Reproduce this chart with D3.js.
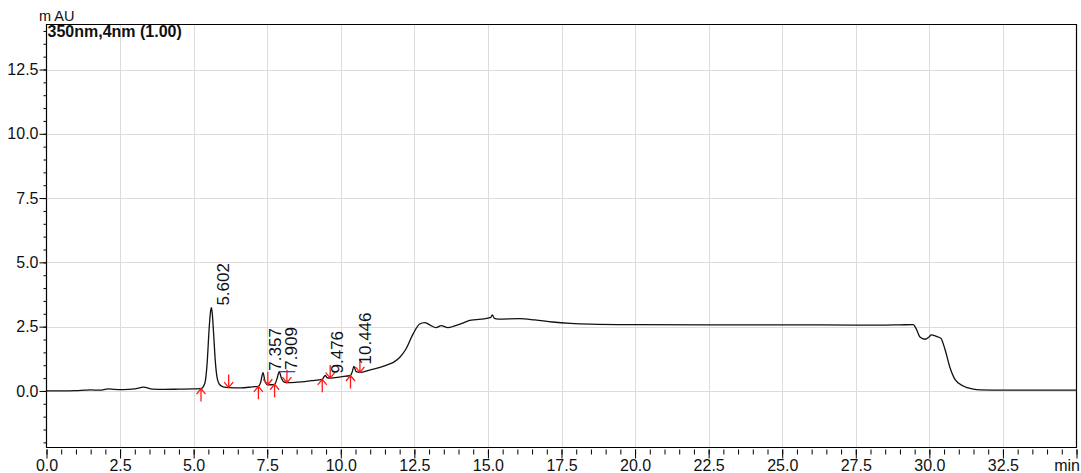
<!DOCTYPE html>
<html>
<head>
<meta charset="utf-8">
<script src="https://cdn.jsdelivr.net/npm/d3@7"></script>
<style>
  html, body { margin: 0; padding: 0; background: #fff; }
  svg { display: block; font-family: "Liberation Sans", Arial, sans-serif; }
</style>
</head>
<body>
<svg id="chart" width="1081" height="473"></svg>
<script>
// Chromatogram trace: retention time (min) and absorbance (mAU)
const traceTime = [
  0.0, 0.5, 1.0, 1.3, 1.5, 1.8, 2.1, 2.3, 2.6, 3.0, 3.3, 3.6, 4.0, 4.5, 5.0,
  5.25, 5.38, 5.46, 5.52, 5.57, 5.602, 5.63, 5.68, 5.74, 5.80, 5.88, 6.0, 6.2, 6.6,
  7.0, 7.2, 7.28, 7.357, 7.43, 7.52, 7.65, 7.75, 7.84, 7.909, 7.98, 8.1, 8.17, 8.5,
  9.0, 9.37, 9.43, 9.476, 9.53, 9.64, 10.0, 10.33, 10.39, 10.446, 10.52, 10.65,
  11.0, 11.3, 11.6, 11.8, 12.0, 12.2, 12.45, 12.68, 12.85, 13.02, 13.24, 13.41,
  13.64, 13.87, 14.1, 14.38, 15.0, 15.1, 15.15, 15.22, 15.35, 16.08, 16.6, 17.2,
  17.8, 18.5, 20.0, 22.5, 25.0, 27.5, 28.5, 29.0, 29.45, 29.56, 29.68, 29.85,
  29.99, 30.07, 30.24, 30.39, 30.53, 30.7, 30.87, 31.15, 31.49, 31.72, 32.5, 35.0
];
const traceAbs = [
  0.00, 0.00, 0.01, 0.03, 0.04, 0.03, 0.08, 0.06, 0.05, 0.08, 0.15, 0.07, 0.06, 0.07, 0.08,
  0.09, 0.30, 1.10, 2.30, 3.05, 3.24, 3.05, 2.20, 1.10, 0.50, 0.25, 0.16, 0.13, 0.12,
  0.16, 0.18, 0.35, 0.71, 0.35, 0.24, 0.24, 0.26, 0.50, 0.75, 0.50, 0.33, 0.32, 0.34,
  0.40, 0.45, 0.55, 0.60, 0.52, 0.50, 0.55, 0.60, 0.75, 0.95, 0.75, 0.72,
  0.82, 0.91, 1.02, 1.12, 1.30, 1.60, 2.20, 2.60, 2.66, 2.57, 2.46, 2.54,
  2.46, 2.53, 2.62, 2.74, 2.83, 2.86, 2.96, 2.82, 2.79, 2.81, 2.76, 2.68,
  2.63, 2.60, 2.58, 2.57, 2.57, 2.56, 2.56, 2.57, 2.58, 2.40, 2.10, 2.01,
  2.10, 2.18, 2.12, 2.05, 1.62, 0.91, 0.45, 0.19, 0.07, 0.04, 0.03, 0.03
];

// Integrated peaks
const peakTimes   = [5.602, 7.357, 7.909, 9.476, 10.446];
const peakHeights = [3.24, 0.71, 0.75, 0.60, 0.95];
const peakLabels  = ["5.602", "7.357", "7.909", "9.476", "10.446"];

// Integration start / end marks (min)
const startMarks = [5.25, 7.20, 7.75, 9.37, 10.33];
const endMarks   = [6.19, 7.52, 8.17, 9.64, 10.65];

// Skim segment on the 7.909 peak
const skimTime = [7.92, 8.45];
const skimAbs  = [0.75, 0.75];

// Axes
const xTicks = [0, 2.5, 5, 7.5, 10, 12.5, 15, 17.5, 20, 22.5, 25, 27.5, 30, 32.5, 35];
const xTickLabels = ["0.0", "2.5", "5.0", "7.5", "10.0", "12.5", "15.0", "17.5",
                     "20.0", "22.5", "25.0", "27.5", "30.0", "32.5", ""];
const yTicks = [0, 2.5, 5, 7.5, 10, 12.5];
const yTickLabels = ["0.0", "2.5", "5.0", "7.5", "10.0", "12.5"];
const xDomain = [0, 35];
const yDomain = [-2.2, 14.25];

const svg = d3.select("#chart");
const L = 46.5, R = 1076.5, T = 24.5, B = 447.5;

const x = d3.scaleLinear().domain(xDomain).range([L, R]);
const y = d3.scaleLinear().domain(yDomain).range([B, T]);

// grid
const grid = svg.append("g").attr("stroke", "#dcdcdc").attr("stroke-width", 1);
grid.selectAll("line.v").data(xTicks.filter(d => d > 0 && d < 35)).join("line")
  .attr("x1", d => Math.round(x(d)) + 0.5).attr("x2", d => Math.round(x(d)) + 0.5)
  .attr("y1", T).attr("y2", B);
grid.selectAll("line.h").data(yTicks).join("line")
  .attr("y1", d => Math.round(y(d)) + 0.5).attr("y2", d => Math.round(y(d)) + 0.5)
  .attr("x1", L).attr("x2", R);

// frame
svg.append("path")
  .attr("d", `M${L},${T}H${R}V${B}H${L}Z`)
  .attr("fill", "none").attr("stroke", "#000").attr("stroke-width", 1.2);

// x axis ticks
const xMinor = d3.range(0, 35.001, 0.5);
svg.append("g").attr("transform", `translate(0,${B + 2})`)
  .call(d3.axisBottom(x).tickValues(xMinor).tickSize(5).tickFormat(""))
  .call(g => g.select(".domain").remove());
const xAx = svg.append("g").attr("transform", `translate(0,${B + 2})`)
  .call(d3.axisBottom(x).tickValues(xTicks).tickSize(9).tickPadding(1)
    .tickFormat((d, i) => xTickLabels[i]))
  .call(g => g.select(".domain").remove());
xAx.selectAll("text").attr("font-size", 16).attr("fill", "#111")
  .attr("font-family", "'Liberation Sans', Arial, sans-serif");

svg.append("text").attr("x", 1080).attr("y", 470.5).attr("text-anchor", "end")
  .attr("font-size", 16).attr("fill", "#111").text("min");

// y axis ticks
const yMinor = d3.range(-2, 14.001, 0.5);
svg.append("g").attr("transform", `translate(${L},0)`)
  .call(d3.axisLeft(y).tickValues(yMinor).tickSize(3).tickFormat(""))
  .call(g => g.select(".domain").remove());
const yAx = svg.append("g").attr("transform", `translate(${L},0)`)
  .call(d3.axisLeft(y).tickValues(yTicks).tickSize(7).tickPadding(1)
    .tickFormat((d, i) => yTickLabels[i]))
  .call(g => g.select(".domain").remove());
yAx.selectAll("text").attr("font-size", 16).attr("fill", "#111")
  .attr("font-family", "'Liberation Sans', Arial, sans-serif");
svg.selectAll(".tick line").attr("stroke", "#000");

// unit and channel title
svg.append("text").attr("x", 39).attr("y", 21).attr("font-size", 14.5)
  .attr("fill", "#111").text("m AU");
svg.append("text").attr("x", 47.5).attr("y", 37).attr("font-size", 16)
  .attr("font-weight", "bold").attr("fill", "#111").text("350nm,4nm (1.00)");

// trace
const pts = traceTime.map((t, i) => [t, traceAbs[i]]);
const line = d3.line().x(d => x(d[0])).y(d => y(d[1])).curve(d3.curveMonotoneX);
svg.append("path").attr("d", line(pts))
  .attr("fill", "none").attr("stroke", "#111").attr("stroke-width", 1.3);

// value of the trace at a given time
const absAt = t => {
  const i = d3.bisectRight(traceTime, t);
  const t0 = traceTime[i - 1], t1 = traceTime[i];
  const v0 = traceAbs[i - 1], v1 = traceAbs[i];
  return v0 + (v1 - v0) * (t - t0) / (t1 - t0);
};

// integration marks
const marks = svg.append("g").attr("stroke", "#ff1a1a").attr("stroke-width", 1.3).attr("fill", "none");
startMarks.forEach(t => {
  const px = x(t), py = y(absAt(t));
  marks.append("path").attr("d", `M${px},${py}V${py + 13}M${px - 4.5},${py + 5.5}L${px},${py}L${px + 4.5},${py + 5.5}`);
});
endMarks.forEach(t => {
  const px = x(t), py = y(absAt(t));
  marks.append("path").attr("d", `M${px},${py}V${py - 13}M${px - 4.5},${py - 5.5}L${px},${py}L${px + 4.5},${py - 5.5}`);
});

// skim segment
svg.append("line")
  .attr("x1", x(skimTime[0])).attr("x2", x(skimTime[1]))
  .attr("y1", y(skimAbs[0])).attr("y2", y(skimAbs[1]))
  .attr("stroke", "#3a3aff").attr("stroke-width", 1.3);

// peak retention-time labels
svg.append("g").selectAll("text").data(peakTimes).join("text")
  .attr("transform", (d, i) => `translate(${x(d) + 17.5},${y(peakHeights[i]) - 2}) rotate(-90)`)
  .attr("font-size", 17).attr("fill", "#111")
  .text((d, i) => peakLabels[i]);
</script>
</body>
</html>
